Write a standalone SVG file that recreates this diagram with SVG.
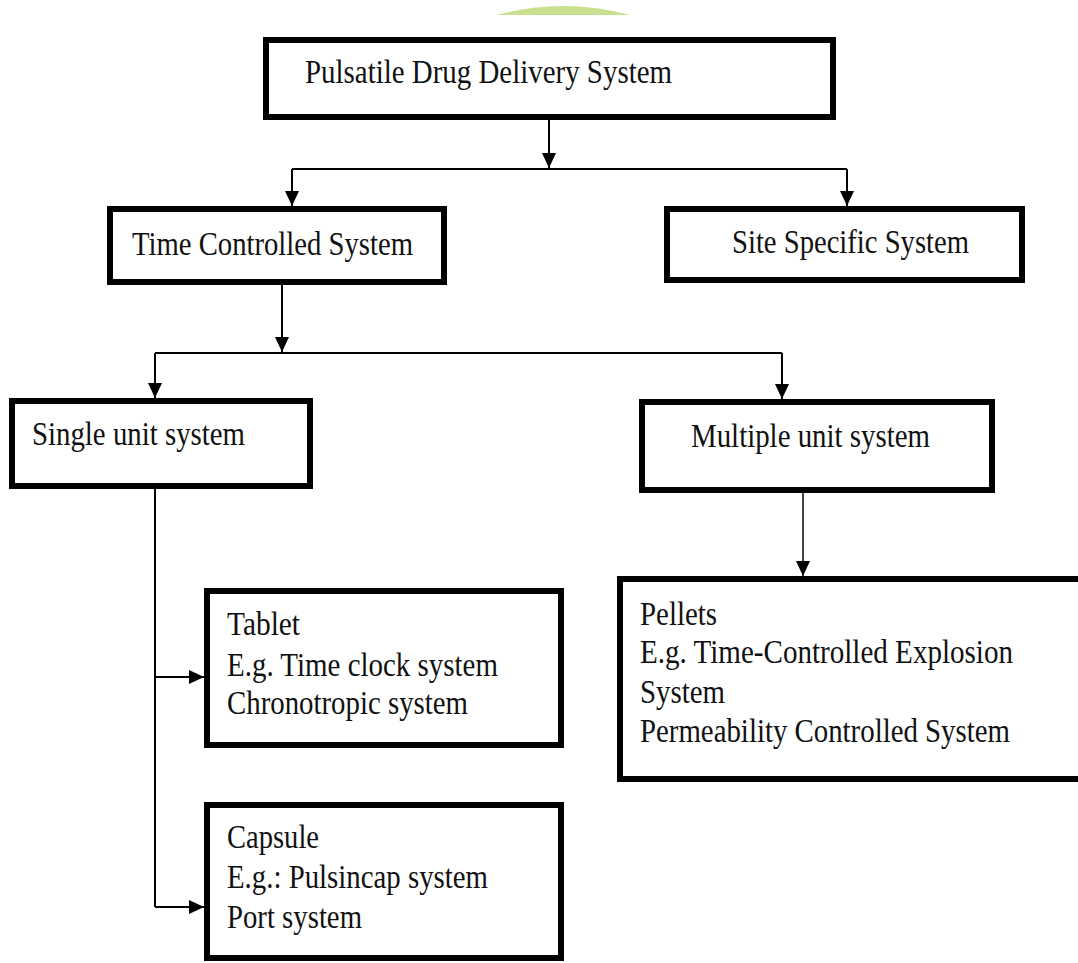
<svg xmlns="http://www.w3.org/2000/svg" width="1078" height="963" viewBox="0 0 1078 963">
  <style>
    .box { fill: #ffffff; stroke: #000000; stroke-width: 6; }
    .lbl { font-family: "Liberation Serif", "Times New Roman", serif; font-size: 33px; fill: #111111; }
    .conn { fill: none; stroke: #000000; stroke-width: 2; }
    .conn-gray { fill: none; stroke: #444444; stroke-width: 2; }
  </style>
  <defs>
    <marker id="arrow" markerUnits="userSpaceOnUse" markerWidth="15" markerHeight="14" viewBox="0 0 15 14" refX="15" refY="7" orient="auto">
      <path d="M0,0 L15,7 L0,14 Z" fill="#000000"/>
    </marker>
  </defs>
  <rect width="1078" height="963" fill="#ffffff"/>
  <path d="M497,15 Q563,-3 630,15 Z" fill="#c9e08f"/>

  <g id="connectors">
    <line class="conn" x1="549" y1="120" x2="549" y2="168" marker-end="url(#arrow)"/>
    <line class="conn" x1="292" y1="169" x2="847" y2="169"/>
    <line class="conn" x1="292" y1="169" x2="292" y2="206" marker-end="url(#arrow)"/>
    <line class="conn" x1="847" y1="169" x2="847" y2="206" marker-end="url(#arrow)"/>
    <line class="conn" x1="282" y1="285" x2="282" y2="352" marker-end="url(#arrow)"/>
    <line class="conn" x1="155" y1="353" x2="782" y2="353"/>
    <line class="conn" x1="155" y1="353" x2="155" y2="398" marker-end="url(#arrow)"/>
    <line class="conn" x1="782" y1="353" x2="782" y2="399" marker-end="url(#arrow)"/>
    <line class="conn-gray" x1="803" y1="493" x2="803" y2="576" marker-end="url(#arrow)"/>
    <line class="conn" x1="155" y1="488" x2="155" y2="907"/>
    <line class="conn" x1="155" y1="677" x2="204" y2="677" marker-end="url(#arrow)"/>
    <line class="conn" x1="155" y1="907" x2="204" y2="907" marker-end="url(#arrow)"/>
  </g>

  <g id="pulsatile">
    <rect class="box" x="266" y="40" width="567" height="77"/>
    <text class="lbl" x="305" y="83" textLength="367" lengthAdjust="spacingAndGlyphs">Pulsatile Drug Delivery System</text>
  </g>
  <g id="time-controlled">
    <rect class="box" x="110" y="209" width="334" height="73"/>
    <text class="lbl" x="132" y="255" textLength="281" lengthAdjust="spacingAndGlyphs">Time Controlled System</text>
  </g>
  <g id="site-specific">
    <rect class="box" x="667" y="209" width="355" height="71"/>
    <text class="lbl" x="732" y="253" textLength="237" lengthAdjust="spacingAndGlyphs">Site Specific System</text>
  </g>
  <g id="single-unit">
    <rect class="box" x="12" y="401" width="298" height="85"/>
    <text class="lbl" x="32" y="445" textLength="213" lengthAdjust="spacingAndGlyphs">Single unit system</text>
  </g>
  <g id="multiple-unit">
    <rect class="box" x="642" y="402" width="350" height="88"/>
    <text class="lbl" x="691" y="447" textLength="239" lengthAdjust="spacingAndGlyphs">Multiple unit system</text>
  </g>
  <g id="pellets">
    <rect class="box" x="620" y="579" width="480" height="200"/>
    <text class="lbl" x="640" y="625" textLength="77" lengthAdjust="spacingAndGlyphs">Pellets</text>
    <text class="lbl" x="640" y="663" textLength="373" lengthAdjust="spacingAndGlyphs">E.g. Time-Controlled Explosion</text>
    <text class="lbl" x="640" y="703" textLength="85" lengthAdjust="spacingAndGlyphs">System</text>
    <text class="lbl" x="640" y="742" textLength="370" lengthAdjust="spacingAndGlyphs">Permeability Controlled System</text>
  </g>
  <g id="tablet">
    <rect class="box" x="207" y="591" width="354" height="154"/>
    <text class="lbl" x="227" y="635" textLength="73" lengthAdjust="spacingAndGlyphs">Tablet</text>
    <text class="lbl" x="227" y="676" textLength="271" lengthAdjust="spacingAndGlyphs">E.g. Time clock system</text>
    <text class="lbl" x="227" y="714" textLength="241" lengthAdjust="spacingAndGlyphs">Chronotropic system</text>
  </g>
  <g id="capsule">
    <rect class="box" x="207" y="805" width="354" height="153"/>
    <text class="lbl" x="227" y="848" textLength="92" lengthAdjust="spacingAndGlyphs">Capsule</text>
    <text class="lbl" x="227" y="888" textLength="261" lengthAdjust="spacingAndGlyphs">E.g.: Pulsincap system</text>
    <text class="lbl" x="227" y="928" textLength="135" lengthAdjust="spacingAndGlyphs">Port system</text>
  </g>
</svg>
